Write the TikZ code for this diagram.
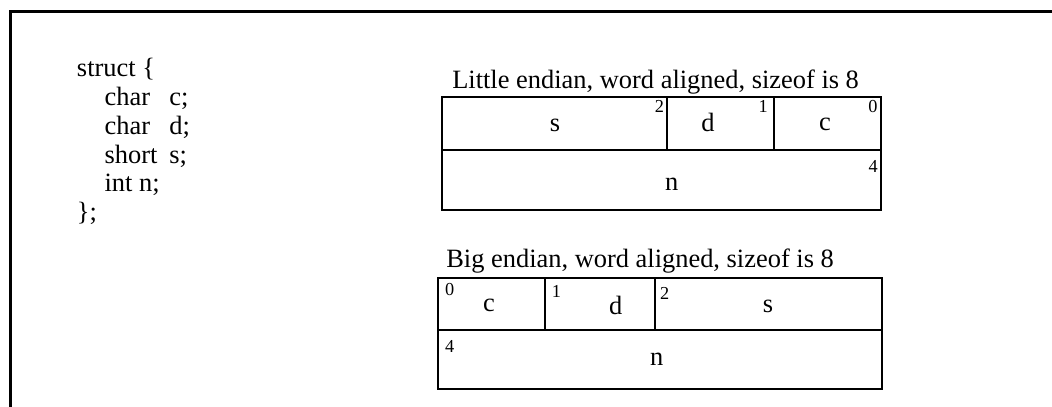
\documentclass[tikz,border=0pt]{standalone}
\usepackage{fontspec}
\setmainfont{Liberation Serif}
\usepackage{tikz}
\usetikzlibrary{positioning}
\newcommand{\cfield}[2]{\makebox[1.62cm][l]{#1}#2}

\begin{document}
\begin{tikzpicture}[
  every node/.style={font=\fontsize{18.8pt}{20pt}\selectfont},
  frame/.style={line width=0.07cm},
  cell/.style={draw, line width=0.05cm, inner sep=0pt, outer sep=0pt,
               anchor=north west},
  byte/.style={font=\fontsize{13pt}{14pt}\selectfont, inner sep=0pt},
  letter/.style={anchor=base, inner sep=0pt},
  code/.style={anchor=base west, inner sep=0pt}
]
\useasboundingbox (0,0) rectangle (26.3,-10.15);
\draw[frame] (0.2675,-10.4) |- (26.6,-0.2825);

% the struct
\node[code] (head) at (1.9175,-1.9175) {struct \{};
\foreach \name/\typ [count=\i] in {c/char, d/char, s/short}
  \node[code] (f\i) at (2.6075,{-1.9175-0.72*\i}) {\cfield{\typ}{\name;}};
\node[code] (f4) at (2.6075,{-1.9175-0.72*4}) {int n;};
\node[code] (tail) at (1.9175,{-1.9175-0.72*5}) {\};};

% little endian
\node[code] (letitle) at (11.3,-2.2075)
  {Little endian, word aligned, sizeof is 8};
\node[cell, minimum width=5.625cm, minimum height=1.32cm] (le-s) at (11.04,-2.43) {};
\node[cell, minimum width=2.685cm, minimum height=1.32cm] (le-d) at (16.665,-2.43) {};
\node[cell, minimum width=2.675cm, minimum height=1.32cm] (le-c) at (19.35,-2.43) {};
\node[cell, minimum width=10.985cm, minimum height=1.5cm] (le-n) at (11.04,-3.75) {};
\node[letter] (les) at (13.875,-3.29) {s};
\node[letter] (led) at (17.7,-3.29) {d};
\node[letter] (lec) at (20.625,-3.25) {c};
\node[letter] (len) at (16.79,-4.75) {n};
\node[byte, anchor=north east] (le2) at ([xshift=-0.06cm,yshift=-0.07cm]le-s.north east) {2};
\node[byte, anchor=north east] (le1) at ([xshift=-0.15cm,yshift=-0.07cm]le-d.north east) {1};
\node[byte, anchor=north east] (le0) at ([xshift=-0.08cm,yshift=-0.07cm]le-c.north east) {0};
\node[byte, anchor=north east] (le4) at ([xshift=-0.075cm,yshift=-0.25cm]le-n.north east) {4};

% big endian
\node[code] (betitle) at (11.15,-6.68)
  {Big endian, word aligned, sizeof is 8};
\node[cell, minimum width=2.6625cm, minimum height=1.3125cm] (be-c) at (10.96,-6.94) {};
\node[cell, minimum width=2.75cm, minimum height=1.3125cm] (be-d) at (13.6225,-6.94) {};
\node[cell, minimum width=5.67cm, minimum height=1.3125cm] (be-s) at (16.3725,-6.94) {};
\node[cell, minimum width=11.08cm, minimum height=1.475cm] (be-n) at (10.96,-8.25) {};
\node[letter] (bec) at (12.225,-7.79) {c};
\node[letter] (bed) at (15.39,-7.86) {d};
\node[letter] (bes) at (19.2,-7.82) {s};
\node[letter] (ben) at (16.42,-9.125) {n};
\node[byte, anchor=north west] (be0) at ([xshift=0.16cm,yshift=-0.145cm]be-c.north west) {0};
\node[byte, anchor=north west] (be1) at ([xshift=0.17cm,yshift=-0.19cm]be-d.north west) {1};
\node[byte, anchor=north west] (be2) at ([xshift=0.125cm,yshift=-0.23cm]be-s.north west) {2};
\node[byte, anchor=north west] (be4) at ([xshift=0.16cm,yshift=-0.25cm]be-n.north west) {4};
\end{tikzpicture}
\end{document}
